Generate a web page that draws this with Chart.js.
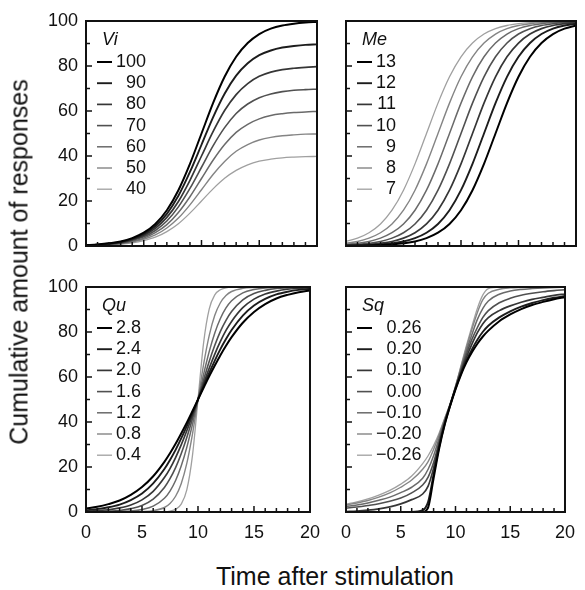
<!DOCTYPE html>
<html>
<head>
<meta charset="utf-8">
<script src="https://cdn.jsdelivr.net/npm/chart.js@4.4.0/dist/chart.umd.min.js"></script>
<style>
  body { margin: 0; background: #fff; }
  #page { position: relative; width: 585px; height: 590px; font-family: "Liberation Sans", Arial, sans-serif; color: #111; }
  canvas { position: absolute; }
  #ylabel { position: absolute; left: 19px; top: 262px; transform: translate(-50%, -50%) rotate(-90deg); font-size: 25px; line-height: 1; white-space: nowrap; }
  #xlabel { position: absolute; left: 335px; top: 576px; transform: translate(-50%, -50%); font-size: 25px; line-height: 1; white-space: nowrap; }
</style>
</head>
<body>
<div id="page">
  <canvas id="chartVi" width="330" height="265" style="left:0px;top:0px"></canvas>
  <canvas id="chartMe" width="255" height="265" style="left:330px;top:0px"></canvas>
  <canvas id="chartQu" width="330" height="280" style="left:0px;top:265px"></canvas>
  <canvas id="chartSq" width="255" height="280" style="left:330px;top:265px"></canvas>
  <div id="ylabel">Cumulative amount of responses</div>
  <div id="xlabel">Time after stimulation</div>
</div>
<script>
// time points (x)
var tTop = [0,1,2,3,4,5,6,7,8,9,10,11,12,13,14,15,16,17,18,19,20];
var tBottom = [0,1,2,3,4,5,6,7,7.5,8,8.5,9,9.5,10,10.5,11,11.5,12,12.5,13,14,15,16,17,18,19,20];

// Vi panel
var viLabels = ['100','90','80','70','60','50','40'];
var vi100 = [0.4,0.7,1.2,2.0,3.5,5.9,9.8,15.9,24.8,36.5,50,63.5,75.2,84.1,90.2,94.2,96.6,98.0,98.8,99.3,99.6];
var vi90 = [0.4,0.6,1.1,1.8,3.2,5.3,8.8,14.3,22.3,32.9,45,57.2,67.7,75.7,81.2,84.8,86.9,88.2,88.9,89.4,89.6];
var vi80 = [0.3,0.6,1,1.6,2.8,4.7,7.8,12.7,19.8,29.2,40,50.8,60.2,67.3,72.2,75.4,77.3,78.4,79,79.4,79.7];
var vi70 = [0.3,0.5,0.8,1.4,2.5,4.1,6.9,11.1,17.4,25.6,35,44.5,52.6,58.9,63.1,65.9,67.6,68.6,69.2,69.5,69.7];
var vi60 = [0.2,0.4,0.7,1.2,2.1,3.5,5.9,9.5,14.9,21.9,30,38.1,45.1,50.5,54.1,56.5,58,58.8,59.3,59.6,59.8];
var vi50 = [0.2,0.4,0.6,1,1.8,3,4.9,8,12.4,18.3,25,31.8,37.6,42.1,45.1,47.1,48.3,49,49.4,49.7,49.8];
var vi40 = [0.2,0.3,0.5,0.8,1.4,2.4,3.9,6.4,9.9,14.6,20,25.4,30.1,33.6,36.1,37.7,38.6,39.2,39.5,39.7,39.8];

// Me panel
var meLabels = ['13','12','11','10','9','8','7'];
var me13 = [0.1,0.1,0.2,0.4,0.7,1.2,2.0,3.5,5.9,9.8,15.9,24.8,36.5,50,63.5,75.2,84.1,90.2,94.2,96.6,98.0];
var me12 = [0.1,0.2,0.4,0.7,1.2,2.0,3.5,5.9,9.8,15.9,24.8,36.5,50,63.5,75.2,84.1,90.2,94.2,96.6,98.0,98.8];
var me11 = [0.2,0.4,0.7,1.2,2.0,3.5,5.9,9.8,15.9,24.8,36.5,50,63.5,75.2,84.1,90.2,94.2,96.6,98.0,98.8,99.3];
var me10 = [0.4,0.7,1.2,2.0,3.5,5.9,9.8,15.9,24.8,36.5,50,63.5,75.2,84.1,90.2,94.2,96.6,98.0,98.8,99.3,99.6];
var me9 = [0.7,1.2,2.0,3.5,5.9,9.8,15.9,24.8,36.5,50,63.5,75.2,84.1,90.2,94.2,96.6,98.0,98.8,99.3,99.6,99.8];
var me8 = [1.2,2.0,3.5,5.9,9.8,15.9,24.8,36.5,50,63.5,75.2,84.1,90.2,94.2,96.6,98.0,98.8,99.3,99.6,99.8,99.9];
var me7 = [2.0,3.5,5.9,9.8,15.9,24.8,36.5,50,63.5,75.2,84.1,90.2,94.2,96.6,98.0,98.8,99.3,99.6,99.8,99.9,99.9];

// Qu panel
var quLabels = ['2.8','2.4','2.0','1.6','1.2','0.8','0.4'];
var qu28 = [1.5,2.3,3.5,5.1,7.6,11.1,15.9,22.3,26.1,30.3,34.9,39.7,44.8,50,55.2,60.3,65.1,69.7,73.9,77.7,84.1,88.9,92.4,94.9,96.5,97.7,98.5];
var qu24 = [0.8,1.3,2.1,3.3,5.3,8.2,12.7,19.1,23.1,27.6,32.7,38.2,44,50,56,61.8,67.3,72.4,76.9,80.9,87.3,91.8,94.7,96.7,97.9,98.7,99.2];
var qu20 = [0.3,0.6,1,1.8,3.1,5.4,9.2,15.3,19.3,24.2,29.8,36.1,42.9,50,57.1,63.9,70.2,75.8,80.7,84.7,90.8,94.6,96.9,98.2,99,99.4,99.7];
var qu16 = [0.1,0.2,0.4,0.7,1.5,2.9,5.7,10.9,14.8,19.7,25.9,33.1,41.3,50,58.7,66.9,74.1,80.3,85.2,89.1,94.3,97.1,98.5,99.3,99.6,99.8,99.9];
var qu12 = [0,0,0.1,0.2,0.4,1.1,2.6,6.1,9.3,14,20.4,28.7,38.8,50,61.2,71.3,79.6,86,90.7,93.9,97.4,98.9,99.6,99.8,99.9,100,100];
var qu08 = [0,0,0,0,0,0.2,0.6,2,3.8,7,12.6,21.6,34.4,50,65.6,78.4,87.4,93,96.2,98,99.4,99.8,100,100,100,100,100];
var qu04 = [0,0,0,0,0,0,0,0.1,0.4,1.2,3.5,9.8,24.8,50,75.2,90.2,96.5,98.8,99.6,99.9,100,100,100,100,100,100,100];

// Sq panel
var sqLabels = ['0.26','0.20','0.10','0.00','\u22120.10','\u22120.20','\u22120.26'];
var sqP26 = [0,0,0,0,0,0,0,0,2,15,28,38.5,47,54.5,61,66.5,71,74.8,78,80.6,84.8,87.8,90.2,92,93.4,94.6,95.5];
var sqP20 = [0,0,0,0,0,0,0,0.8,4.5,16.7,28.8,38.8,47.1,54.7,61.5,67.4,72.3,76.6,80.1,82.8,86.5,89.2,91.3,92.9,94.2,95.2,96];
var sqP10 = [0.2,0.4,0.8,1.4,2.3,3.6,5.5,8,11.5,19.5,30.2,39.4,47.3,55,62.2,68.8,74.6,79.7,83.7,86.4,89.5,91.6,93.2,94.5,95.4,96.3,96.9];
var sqZero = [1.7,2.2,2.9,3.7,4.8,6.2,8.5,12,15.5,22,31,40,47.5,55.2,63,70.2,76.7,82,86.5,89.5,93,95,96.3,97.2,97.9,98.4,98.8];
var sqM10 = [2.4,3.1,4,5.2,6.6,8.6,11,15,19,25,32.8,40.6,47.7,55.5,63.8,71.7,78.9,85.6,90.5,93.8,96.8,98.2,98.9,99.3,99.6,99.8,99.9];
var sqM20 = [3.1,4,5.1,6.6,8.5,11,14.2,19,22.4,27.8,34.2,41.2,47.9,55.8,64.5,73.1,81.2,88.7,94.4,97.2,99,99.6,99.8,99.9,100,100,100];
var sqM26 = [3.5,4.5,5.8,7.5,9.6,12.4,16,21.5,25,29.5,35,41.5,48,56,65,74,82.5,90.5,96.5,99.3,100,100,100,100,100,100,100];

var FONT = '"Liberation Sans", Arial, sans-serif';
var greys = ['#000000', '#1c1c1c', '#363636', '#505050', '#6a6a6a', '#848484', '#a0a0a0'];
var widths = [2, 1.9, 1.7, 1.6, 1.5, 1.4, 1.3];

// frame, inward ticks and the small legend in the top-left corner
var panelDecor = {
  id: 'panelDecor',
  afterDatasetsDraw: function(chart, args, opts) {
    var ctx = chart.ctx;
    var a = chart.chartArea;
    var xs = chart.scales.x, ys = chart.scales.y;
    ctx.save();
    ctx.strokeStyle = '#111';
    ctx.lineWidth = 1.5;
    xs.ticks.forEach(function(tk) {
      var px = xs.getPixelForValue(tk.value);
      var len = tk.value % 5 === 0 ? 6 : 4;
      ctx.beginPath();
      ctx.moveTo(px, a.bottom);
      ctx.lineTo(px, a.bottom - len);
      ctx.stroke();
    });
    ys.ticks.forEach(function(tk) {
      var py = ys.getPixelForValue(tk.value);
      var len = tk.value % 20 === 0 ? 6 : 4;
      ctx.beginPath();
      ctx.moveTo(a.left, py);
      ctx.lineTo(a.left + len, py);
      ctx.stroke();
    });
    ctx.lineWidth = 2;
    ctx.strokeRect(a.left, a.top, a.right - a.left, a.bottom - a.top);

    // legend
    ctx.fillStyle = '#111';
    ctx.textBaseline = 'middle';
    ctx.textAlign = 'left';
    ctx.font = 'italic 18px ' + FONT;
    ctx.fillText(opts.title, a.left + 16, a.top + 19);
    ctx.font = '18px ' + FONT;
    var sets = chart.data.datasets;
    var maxW = 0;
    sets.forEach(function(ds) { maxW = Math.max(maxW, ctx.measureText(ds.label).width); });
    ctx.textAlign = 'right';
    sets.forEach(function(ds, i) {
      var y = a.top + 41 + i * 21.2;
      ctx.strokeStyle = ds.borderColor;
      ctx.lineWidth = ds.borderWidth;
      ctx.beginPath();
      ctx.moveTo(a.left + 11, y);
      ctx.lineTo(a.left + 26, y);
      ctx.stroke();
      ctx.fillText(ds.label, a.left + 30 + maxW, y);
    });
    ctx.restore();
  }
};

function makePanel(id, title, labels, times, series, box) {
  var datasets = series.map(function(vals, i) {
    return {
      label: labels[i],
      data: times.map(function(t, k) { return { x: t, y: vals[k] }; }),
      borderColor: greys[i],
      borderWidth: widths[i],
      pointRadius: 0,
      fill: false,
      cubicInterpolationMode: 'monotone'
    };
  });
  var tickFont = { family: FONT, size: 18 };
  return new Chart(document.getElementById(id), {
    type: 'line',
    data: { datasets: datasets },
    options: {
      responsive: false,
      animation: false,
      layout: { padding: { left: box.left, top: box.top, right: box.right, bottom: box.bottom } },
      plugins: {
        legend: { display: false },
        tooltip: { enabled: false },
        panelDecor: { title: title }
      },
      scales: {
        x: {
          type: 'linear', min: 0, max: 20,
          grid: { display: false, drawTicks: false },
          border: { display: false },
          ticks: {
            display: box.showX, stepSize: 1, autoSkip: false, maxRotation: 0,
            padding: 10, color: '#111', font: tickFont,
            callback: function(v) { return v % 5 === 0 ? String(v) : ''; }
          },
          afterFit: function(s) { s.height = box.xHeight; }
        },
        y: {
          type: 'linear', min: 0, max: 100,
          grid: { display: false, drawTicks: false },
          border: { display: false },
          ticks: {
            display: box.showY, stepSize: 10, autoSkip: false,
            padding: 8, color: '#111', font: tickFont,
            callback: function(v) { return v % 20 === 0 ? String(v) : ''; }
          },
          afterFit: function(s) { s.width = box.yWidth; }
        }
      }
    },
    plugins: [panelDecor]
  });
}

makePanel('chartVi', 'Vi', viLabels, tTop, [vi100, vi90, vi80, vi70, vi60, vi50, vi40],
  { left: 0, top: 21, right: 13, bottom: 19, yWidth: 86, xHeight: 0, showX: false, showY: true });
makePanel('chartMe', 'Me', meLabels, tTop, [me13, me12, me11, me10, me9, me8, me7],
  { left: 16, top: 21, right: 9, bottom: 19, yWidth: 0, xHeight: 0, showX: false, showY: false });
makePanel('chartQu', 'Qu', quLabels, tBottom, [qu28, qu24, qu20, qu16, qu12, qu08, qu04],
  { left: 0, top: 22, right: 13, bottom: 3, yWidth: 86, xHeight: 30, showX: true, showY: true });
makePanel('chartSq', 'Sq', sqLabels, tBottom, [sqP26, sqP20, sqP10, sqZero, sqM10, sqM20, sqM26],
  { left: 16, top: 22, right: 9, bottom: 3, yWidth: 0, xHeight: 30, showX: true, showY: false });
</script>
</body>
</html>
